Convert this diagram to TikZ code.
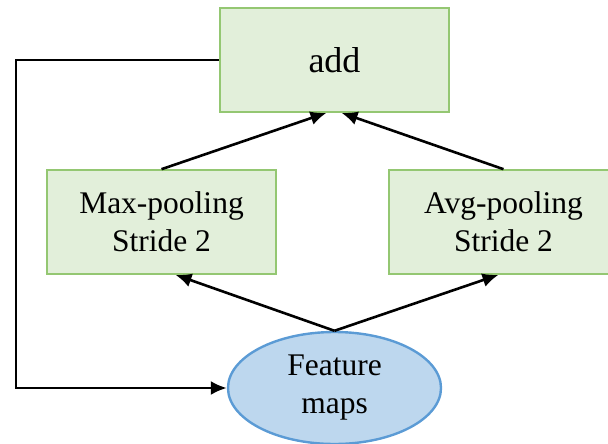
\documentclass[tikz,border=0pt]{standalone}
\usepackage{fontspec}
\setmainfont{Liberation Serif}
\usetikzlibrary{arrows.meta,shapes.geometric,calc}
\definecolor{boxfill}{HTML}{E2EFDA}
\definecolor{boxline}{HTML}{94C772}
\definecolor{ellfill}{HTML}{BDD7EE}
\definecolor{ellline}{HTML}{5B9BD5}
\tikzset{
  opbox/.style={draw=boxline, fill=boxfill, line width=1.6pt, minimum width=229pt,
    minimum height=104pt, inner sep=0pt, align=center, font=\fontsize{31.5}{38}\selectfont},
  datanode/.style={ellipse, draw=ellline, fill=ellfill, line width=2.4pt, minimum width=213pt,
    minimum height=112pt, inner sep=0pt, align=center, font=\fontsize{31.5}{38}\selectfont},
  flow/.style={line width=2.6pt, -{Latex[length=16pt,width=14pt]}}
}
\begin{document}
\begin{tikzpicture}[x=1pt,y=-1pt]
\useasboundingbox (0,0) rectangle (608,444);
\clip (0,0) rectangle (608,444);
\node[opbox, font=\fontsize{36}{43}\selectfont] (add) at (334.5,60) {add};
\node[opbox] (max) at (161.5,222) {Max-pooling\\Stride 2};
\node[opbox] (avg) at (503.5,222) {Avg-pooling\\Stride 2};
\node[datanode] (fm) at (334.5,388) {Feature\\maps};
\coordinate (corner) at (16,60);
% pooling branches
\draw[flow] (fm.north) -- ($(max.south)+(14,0)$);
\draw[flow] (fm.north) -- ($(avg.south)+(-5,0)$);
\draw[flow] (max.north) -- ($(add.south)+(-8,0)$);
\draw[flow] (avg.north) -- ($(add.south)+(7,0)$);
% skip connection
\draw[flow] (add.west) -- (corner) |- (fm.west);
\end{tikzpicture}
\end{document}
